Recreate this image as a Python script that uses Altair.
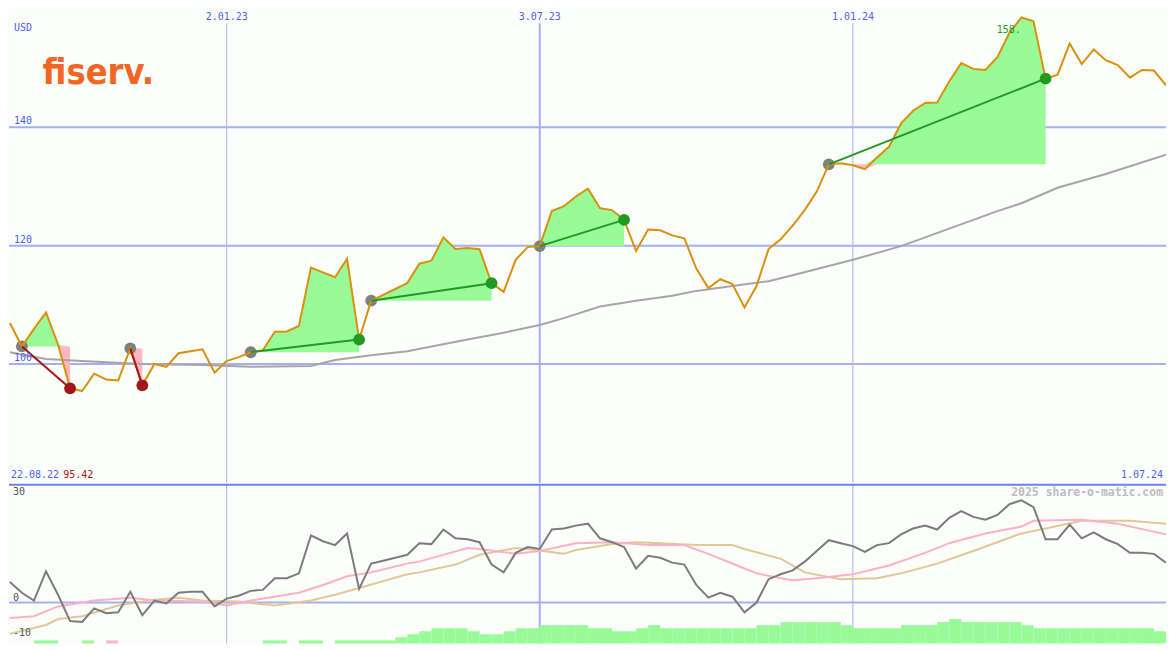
import altair as alt
import pandas as pd

# ---------------- data ----------------
START = "2022-08-29"  # first weekly close

price = [106.91, 102.96, 105.93, 108.72, 103.29, 95.88, 95.42, 98.35, 97.37, 97.20,
         102.63, 96.38, 100.00, 99.51, 101.81, 102.14, 102.47, 98.52, 100.49, 101.15,
         101.98, 102.30, 105.43, 105.50, 106.42, 116.30, 115.47, 114.65, 117.78, 104.12,
         110.70, 111.69, 112.67, 113.66, 116.95, 117.45, 121.40, 119.42, 119.59, 119.40,
         113.66, 112.18, 117.61, 119.75, 119.92, 125.84, 126.67, 128.31, 129.63, 126.34,
         126.01, 124.36, 119.09, 122.72, 122.60, 121.73, 121.23, 116.13, 112.84, 114.32,
         113.50, 109.55, 113.17, 119.42, 121.07, 123.37, 126.01, 129.14, 133.74, 133.91,
         133.58, 132.92, 134.90, 136.71, 140.66, 142.80, 144.12, 144.20, 147.74, 150.86,
         149.88, 149.71, 151.85, 155.97, 158.60, 157.94, 148.23, 148.89, 154.16, 150.70,
         153.17, 151.36, 150.53, 148.40, 149.71, 149.60, 147.08]

mom = [5.83, 2.78, 0.56, 8.89, 2.22, -5.28, -5.56, -1.67, -3.06, -2.78,
       3.06, -3.61, 0.56, -0.28, 2.78, 3.06, 3.06, -1.11, 1.11, 1.94,
       3.33, 3.61, 6.94, 6.94, 8.33, 19.17, 17.50, 16.39, 19.72, 3.89,
       11.11, 11.94, 12.78, 13.61, 16.94, 16.67, 20.83, 18.33, 18.06, 17.22,
       10.83, 8.61, 14.17, 15.83, 15.28, 20.83, 21.11, 21.94, 22.50, 18.33,
       17.22, 15.83, 9.72, 13.33, 12.78, 11.39, 10.83, 5.00, 1.39, 2.78,
       1.67, -2.78, 0.00, 6.67, 8.06, 9.17, 11.67, 14.72, 17.78, 16.94,
       16.11, 14.44, 16.39, 16.94, 19.44, 21.11, 21.94, 20.83, 24.17, 26.11,
       24.44, 23.61, 25.00, 28.06, 29.17, 27.22, 18.06, 18.06, 22.22, 18.33,
       20.00, 18.06, 16.67, 14.17, 14.17, 13.89, 11.39]

ma_week = [0, 3, 6, 11, 16, 20, 25, 27, 30, 33, 38, 41, 44, 46, 49, 52, 55, 57, 60, 63,
           65, 70, 74, 78, 82, 84, 87, 91, 96]
ma_value = [101.98, 100.82, 100.49, 100.0, 99.84, 99.51, 99.67, 100.66, 101.48, 102.14,
            104.12, 105.27, 106.58, 107.74, 109.71, 110.70, 111.52, 112.35, 113.17, 113.99,
            114.98, 117.61, 119.92, 122.88, 125.84, 127.16, 129.79, 132.10, 135.39]

pink_week = [0, 2, 4, 7, 10, 12, 16, 18, 20, 24, 26, 28, 30, 33, 34, 38, 39, 42, 44, 47,
             50, 53, 56, 58, 61, 62, 64, 65, 67, 70, 73, 76, 78, 81, 84, 85, 89, 92, 96]
pink_value = [-4.44, -3.89, -1.11, 0.56, 1.39, 0.56, 0.28, -0.83, 0.56, 2.78,
              5.0, 7.5, 8.61, 11.11, 11.67, 15.56, 15.28, 13.89, 14.72, 16.94,
              17.22, 16.39, 16.39, 13.89, 9.72, 8.33, 6.94, 6.39, 6.94, 8.06,
              10.56, 14.17, 16.94, 19.72, 21.67, 23.33, 23.61, 22.5, 19.44]

tan_week = [0, 3, 4, 6, 9, 12, 14, 16, 19, 22, 25, 27, 29, 33, 34, 37, 39, 42, 43, 46,
            47, 50, 52, 54, 57, 60, 61, 64, 66, 69, 72, 74, 77, 80, 84, 86, 89, 93, 96]
tan_value = [-8.89, -6.39, -4.72, -3.89, -0.83, 0.83, 1.39, 0.56, 0.28, -0.83,
             0.56, 2.22, 4.17, 8.06, 8.61, 10.83, 13.61, 15.56, 15.28, 13.89,
             15.0, 16.67, 17.22, 16.94, 16.39, 16.39, 15.28, 12.5, 8.61, 6.67,
             6.94, 8.33, 11.11, 14.72, 19.72, 21.11, 23.33, 23.33, 22.5]

bar_level = [0, 0, 1, 1, 0, 0, 1, 0, 1, 0,
             0, 0, 0, 0, 0, 0, 0, 0, 0, 0,
             0, 1, 1, 0, 1, 1, 0, 1, 1, 1,
             1, 1, 2, 3, 4, 5, 5, 5, 4, 3,
             3, 4, 5, 5, 6, 6, 6, 6, 5, 5,
             4, 4, 5, 6, 5, 5, 5, 5, 5, 5,
             5, 5, 6, 6, 7, 7, 7, 7, 7, 6,
             5, 5, 5, 5, 6, 6, 6, 7, 8, 7,
             7, 7, 7, 7, 6, 5, 5, 5, 5, 5,
             5, 5, 5, 5, 5, 4]
bar_pink_weeks = [8]

trades = [(1, 5), (10, 11), (20, 29), (30, 40), (44, 51), (68, 86)]  # (entry week, exit week)

price_ticks = [100, 120, 140]
osc_ticks = [30, 0, -10]
date_ticks = ["2023-01-02", "2023-07-03", "2024-01-01"]
date_tick_labels = ["2.01.23", "3.07.23", "1.01.24"]
first_label, last_label = "22.08.22", "1.07.24"
low_label, high_label = "95.42", "158."

# ---------------- layout / style ----------------
W, H = 1159, 634
SX, SY = W / 1175, H / 650
H_TOP = round(487 * SY)
H_BOT = H - H_TOP
TOP_DOM = [79.92, 160.08]
BOT_DOM = [-11.67, 33.61]
LEVEL_UNIT = 0.87

BG = "#fbfefb"
GRID = "#a3b1f2"
THIN = "#b4bce9"
BORDER = "#6f80ea"
BLUE = "#4f5fef"
ORANGE = "#d9910d"
GFILL = "#98fb98"
PFILL = "#ffb6c1"
MONO = "DejaVu Sans Mono"

ds = pd.date_range(START, periods=len(price), freq="7D").strftime("%Y-%m-%d").tolist()

xs = alt.Scale(type="utc", domain=[alt.DateTime(year=2022, month=8, date=28, hours=12, utc=True),
                                   alt.DateTime(year=2024, month=7, date=1, utc=True)])
X = alt.X("date:T", scale=xs, axis=None)
ys_top = alt.Scale(domain=TOP_DOM, zero=False, nice=False)
ys_bot = alt.Scale(domain=BOT_DOM, zero=False, nice=False)

df = pd.DataFrame({"date": ds, "price": price, "mom": mom})
ma_df = pd.DataFrame({"date": [ds[i] for i in ma_week], "v": ma_value})
pink_df = pd.DataFrame({"date": [ds[i] for i in pink_week], "v": pink_value})
tan_df = pd.DataFrame({"date": [ds[i] for i in tan_week], "v": tan_value})

fill_rows, tline_rows, dot_rows = [], [], []
for t, (e, x) in enumerate(trades):
    ep = price[e]
    kind = "gain" if price[x] >= ep else "loss"
    for i in range(e, x + 1):
        p = price[i]
        fill_rows.append({"trade": t, "date": ds[i], "entry": ep, "up": max(p, ep), "dn": min(p, ep)})
    tline_rows += [{"trade": t, "date": ds[e], "price": ep, "kind": kind},
                   {"trade": t, "date": ds[x], "price": price[x], "kind": kind}]
    dot_rows += [{"date": ds[e], "price": ep, "kind": "entry"},
                 {"date": ds[x], "price": price[x], "kind": kind}]
fill_df = pd.DataFrame(fill_rows)
tline_df = pd.DataFrame(tline_rows)
dot_df = pd.DataFrame(dot_rows)

bar_df = pd.DataFrame([
    {"date": ds[i], "date2": ds[i + 1], "top": BOT_DOM[0] + lv * LEVEL_UNIT, "bot": BOT_DOM[0],
     "c": PFILL if i in bar_pink_weeks else GFILL}
    for i, lv in enumerate(bar_level) if lv > 0
])

vl_df = pd.DataFrame({"date": date_ticks, "label": date_tick_labels,
                      "c": [THIN, GRID, THIN], "w": [1.2, 2, 1.2]})

# ---------------- top panel ----------------
grid_h = alt.Chart(pd.DataFrame({"v": price_ticks})).mark_rule(color=GRID, strokeWidth=2).encode(
    y=alt.Y("v:Q", scale=ys_top, axis=None))
vlines_top = alt.Chart(vl_df).mark_rule().encode(
    x=X, y=alt.value(15 * SY), y2=alt.value(H_TOP),
    color=alt.Color("c:N", scale=None), strokeWidth=alt.StrokeWidth("w:Q", scale=None))
g_area = alt.Chart(fill_df).mark_area(color=GFILL, opacity=1, clip=True).encode(
    x=X, y=alt.Y("up:Q", scale=ys_top, axis=None), y2="entry:Q", detail="trade:N")
p_area = alt.Chart(fill_df).mark_area(color=PFILL, opacity=1, clip=True).encode(
    x=X, y=alt.Y("dn:Q", scale=ys_top, axis=None), y2="entry:Q", detail="trade:N")
ma_line = alt.Chart(ma_df).mark_line(color="#a6a6a6", strokeWidth=2, clip=True).encode(
    x=X, y=alt.Y("v:Q", scale=ys_top, axis=None))
entry_dots = alt.Chart(dot_df).transform_filter("datum.kind == 'entry'").mark_circle(
    size=140, opacity=1, color="#808080").encode(x=X, y=alt.Y("price:Q", scale=ys_top, axis=None))
price_line = alt.Chart(df).mark_line(color=ORANGE, strokeWidth=2, clip=True).encode(
    x=X, y=alt.Y("price:Q", scale=ys_top, axis=None))
trade_lines = alt.Chart(tline_df).mark_line(strokeWidth=2).encode(
    x=X, y=alt.Y("price:Q", scale=ys_top, axis=None), detail="trade:N",
    color=alt.Color("kind:N", scale=alt.Scale(domain=["gain", "loss"], range=["#229922", "#a01818"]), legend=None))
exit_dots = alt.Chart(dot_df).transform_filter("datum.kind != 'entry'").mark_circle(size=140, opacity=1).encode(
    x=X, y=alt.Y("price:Q", scale=ys_top, axis=None),
    color=alt.Color("kind:N", scale=alt.Scale(domain=["gain", "loss"], range=["#22a022", "#a52020"]), legend=None))

date_labels = alt.Chart(vl_df).mark_text(font=MONO, fontSize=10, color=BLUE, baseline="middle").encode(
    x=X, y=alt.value(9 * SY), text="label:N")
price_labels = alt.Chart(pd.DataFrame({"v": price_ticks, "t": [str(v) for v in price_ticks]})).mark_text(
    font=MONO, fontSize=10, color=BLUE, align="left", baseline="middle", dy=-6).encode(
    x=alt.value(5 * SX), y=alt.Y("v:Q", scale=ys_top, axis=None), text="t:N")
usd = alt.Chart(pd.DataFrame({"t": ["USD"]})).mark_text(
    font=MONO, fontSize=10, color=BLUE, align="left", baseline="middle").encode(
    x=alt.value(5 * SX), y=alt.value(20 * SY), text="t:N")
logo = alt.Chart(pd.DataFrame({"t": ["fiserv."]})).mark_text(
    font="Liberation Sans Narrow, DejaVu Sans Condensed, Roboto, sans-serif", fontSize=36,
    fontWeight="bold", color="#f26522", align="left", baseline="alphabetic").encode(
    x=alt.value(34 * SX), y=alt.value(78 * SY), text="t:N")
hi_lbl = alt.Chart(pd.DataFrame({"date": [ds[84]], "price": [price[84]], "t": [high_label]})).mark_text(
    font=MONO, fontSize=10, color="#229922", align="left", baseline="middle", dx=-25 * SX, dy=13 * SY).encode(
    x=X, y=alt.Y("price:Q", scale=ys_top, axis=None), text="t:N")
corner = pd.DataFrame({"t": [first_label, low_label, last_label],
                       "x": [2 * SX, 55 * SX, 1172 * SX],
                       "c": [BLUE, "#a01818", BLUE]})
corner_l = alt.Chart(corner.iloc[:2]).mark_text(font=MONO, fontSize=10, align="left", baseline="middle").encode(
    x=alt.X("x:Q", scale=None), y=alt.value(479 * SY), text="t:N", color=alt.Color("c:N", scale=None))
corner_r = alt.Chart(corner.iloc[2:]).mark_text(font=MONO, fontSize=10, align="right", baseline="middle").encode(
    x=alt.X("x:Q", scale=None), y=alt.value(479 * SY), text="t:N", color=alt.Color("c:N", scale=None))

top = alt.layer(grid_h, vlines_top, g_area, p_area, ma_line, entry_dots, price_line, trade_lines,
                exit_dots, date_labels, price_labels, usd, logo, hi_lbl, corner_l, corner_r
                ).properties(width=W, height=H_TOP)

# ---------------- bottom panel ----------------
vlines_bot = alt.Chart(vl_df).mark_rule().encode(
    x=X, y=alt.value(0), y2=alt.value(H_BOT),
    color=alt.Color("c:N", scale=None), strokeWidth=alt.StrokeWidth("w:Q", scale=None))
zero_rule = alt.Chart(pd.DataFrame({"v": [0]})).mark_rule(color=GRID, strokeWidth=2).encode(
    y=alt.Y("v:Q", scale=ys_bot, axis=None))
bars = alt.Chart(bar_df).mark_rect().encode(
    x=X, x2="date2:T", y=alt.Y("top:Q", scale=ys_bot, axis=None), y2="bot:Q",
    color=alt.Color("c:N", scale=None))
tan_line = alt.Chart(tan_df).mark_line(color="#e2c896", strokeWidth=2, clip=True).encode(
    x=X, y=alt.Y("v:Q", scale=ys_bot, axis=None))
pink_line = alt.Chart(pink_df).mark_line(color="#ffb0c4", strokeWidth=2, clip=True).encode(
    x=X, y=alt.Y("v:Q", scale=ys_bot, axis=None))
mom_line = alt.Chart(df).mark_line(color="#7c7c7c", strokeWidth=2, clip=True).encode(
    x=X, y=alt.Y("mom:Q", scale=ys_bot, axis=None))
border = alt.Chart(pd.DataFrame({"a": [0]})).mark_rule(color=BORDER, strokeWidth=2).encode(
    x=alt.value(0), x2=alt.value(W), y=alt.value(0))
osc_labels = alt.Chart(pd.DataFrame({"v": osc_ticks, "t": [str(v) for v in osc_ticks]})).mark_text(
    font=MONO, fontSize=10, color="#555555", align="left", baseline="middle", dy=-5).encode(
    x=alt.value(4 * SX), y=alt.Y("v:Q", scale=ys_bot, axis=None), text="t:N")
wm = alt.Chart(pd.DataFrame({"t": ["2025 share-o-matic.com"]})).mark_text(
    font=MONO, fontSize=11.5, fontWeight="bold", color="#bdbdbd", align="right", baseline="middle").encode(
    x=alt.value(1172 * SX), y=alt.value(9 * SY), text="t:N")

bottom = alt.layer(vlines_bot, zero_rule, bars, tan_line, pink_line, mom_line, border, osc_labels, wm
                   ).properties(width=W, height=H_BOT)

chart = alt.vconcat(top, bottom, spacing=0, padding=0, background=BG).configure_view(stroke=None)

chart.save("out.html", embed_options={"renderer": "svg", "actions": False})
